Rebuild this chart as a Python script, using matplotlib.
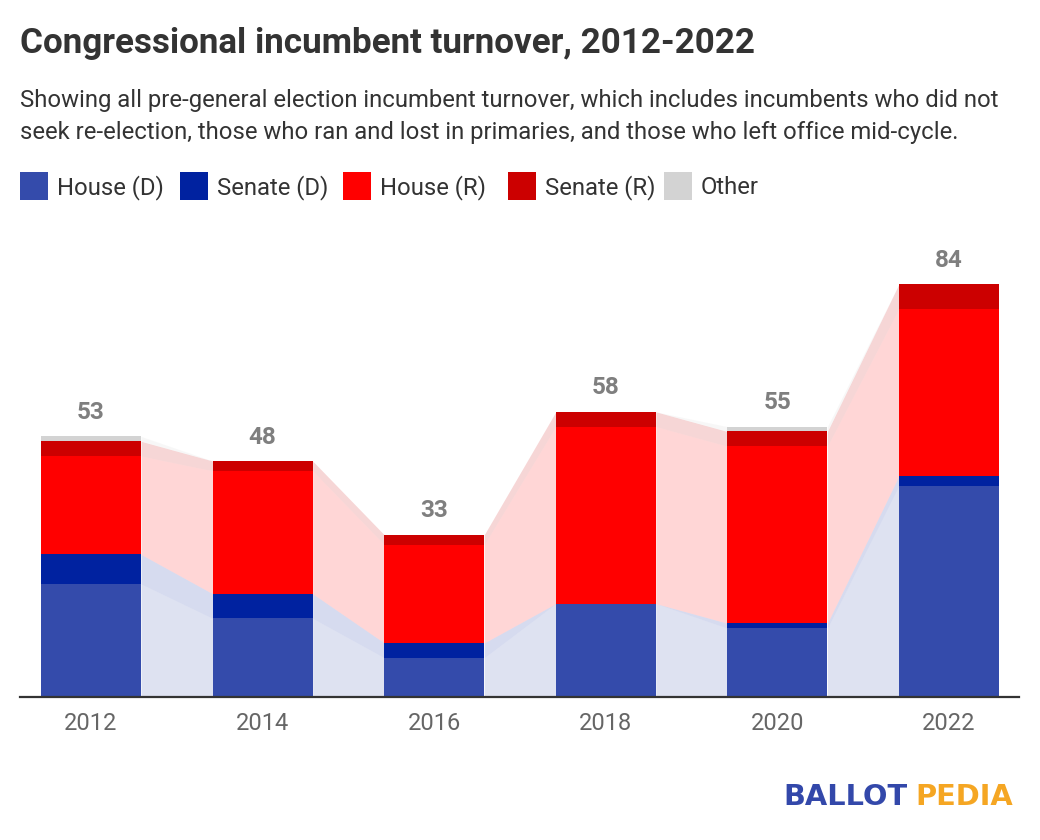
import matplotlib
matplotlib.use("Agg")
import matplotlib.pyplot as plt
from matplotlib.patches import Rectangle
import numpy as np

plt.rcParams['font.family'] = ['Roboto', 'DejaVu Sans']

years = ["2012", "2014", "2016", "2018", "2020", "2022"]
house_d = [23, 16, 8, 19, 14, 43]
senate_d = [6, 5, 3, 0, 1, 2]
house_r = [20, 25, 20, 36, 36, 34]
senate_r = [3, 2, 2, 3, 3, 5]
other = [1, 0, 0, 0, 1, 0]

series_names = ["House (D)", "Senate (D)", "House (R)", "Senate (R)", "Other"]
series_colors = ["#344BAB", "#0022A0", "#FF0000", "#CC0000", "#D3D3D3"]
series = [house_d, senate_d, house_r, senate_r, other]

title = "Congressional incumbent turnover, 2012-2022"
subtitle = ("Showing all pre-general election incumbent turnover, which includes incumbents who did not\n"
            "seek re-election, those who ran and lost in primaries, and those who left office mid-cycle.")

W, H = 1040, 840
fig = plt.figure(figsize=(W / 100, H / 100), dpi=100)
fig.patch.set_facecolor("white")

def fx(px):
    return px / W

def fy(py):
    return 1 - py / H

# axes: x 20..1019 px, baseline at 697 px, ylim 0..90 with 4.917 px/unit
ax_left, ax_right = 20, 1019
base_y = 697
ppu = 4.917
ymax = 90
ax_top = base_y - ymax * ppu
ax = fig.add_axes([fx(ax_left), fy(base_y), fx(ax_right - ax_left), (base_y - ax_top) / H])

n = len(years)
x = np.arange(n)
bw = 0.583
xmin = -0.414
xmax = 5.408

data = np.array(series, dtype=float)
tops = np.cumsum(data, axis=0)
bottoms = tops - data

for k in range(len(series)):
    ax.bar(x, data[k], bottom=bottoms[k], width=bw, color=series_colors[k], lw=0, zorder=3)
    for i in range(n - 1):
        xr = x[i] + bw / 2
        xl = x[i + 1] - bw / 2
        ax.fill_between([xr, xl], [bottoms[k][i], bottoms[k][i + 1]],
                        [tops[k][i], tops[k][i + 1]],
                        color=series_colors[k], alpha=0.16, lw=0, zorder=2)

totals = tops[-1]
for i in range(n):
    ax.annotate(f"{int(totals[i])}", (x[i], totals[i]), xytext=(0, 12.5), textcoords="offset points",
                ha="center", va="baseline", fontsize=17.5, fontweight="bold", color="#7F7F7F", zorder=5)

ax.set_xlim(xmin, xmax)
ax.set_ylim(0, ymax)
ax.set_yticks([])
ax.set_xticks(x)
ax.set_xticklabels(years, fontsize=17, color="#666666")
ax.tick_params(axis="x", length=0, pad=11)
for s in ["top", "right", "left"]:
    ax.spines[s].set_visible(False)
ax.spines["bottom"].set_color("#333333")
ax.spines["bottom"].set_linewidth(1.6)
ax.spines["bottom"].set_zorder(6)
ax.set_facecolor("none")

# title & subtitle
fig.text(fx(20), fy(53), title, fontsize=25.2, fontweight="bold", color="#333333", va="baseline", ha="left")
sub_lines = subtitle.split("\n")
fig.text(fx(20), fy(107), sub_lines[0], fontsize=17.2, color="#333333", va="baseline", ha="left")
fig.text(fx(20), fy(139.5), sub_lines[1], fontsize=17.2, color="#333333", va="baseline", ha="left")

# legend
leg_x = [20, 180, 343, 508, 664]
for lx, name, col in zip(leg_x, series_names, series_colors):
    fig.patches.append(Rectangle((fx(lx), fy(200)), fx(28), 28 / H, transform=fig.transFigure,
                                 facecolor=col, edgecolor="none"))
    fig.text(fx(lx + 37), fy(194), name, fontsize=17.2, color="#333333", va="baseline", ha="left")

# logo
fig.text(fx(783), fy(805), "BALLOT", fontsize=20.8, fontweight="bold", color="#3348AA",
         ha="left", va="baseline", family=["DejaVu Sans"])
fig.text(fx(1013), fy(805), "PEDIA", fontsize=20.8, fontweight="bold", color="#F5A623",
         ha="right", va="baseline", family=["DejaVu Sans"])

fig.savefig("out.png", dpi=100, facecolor="white")
